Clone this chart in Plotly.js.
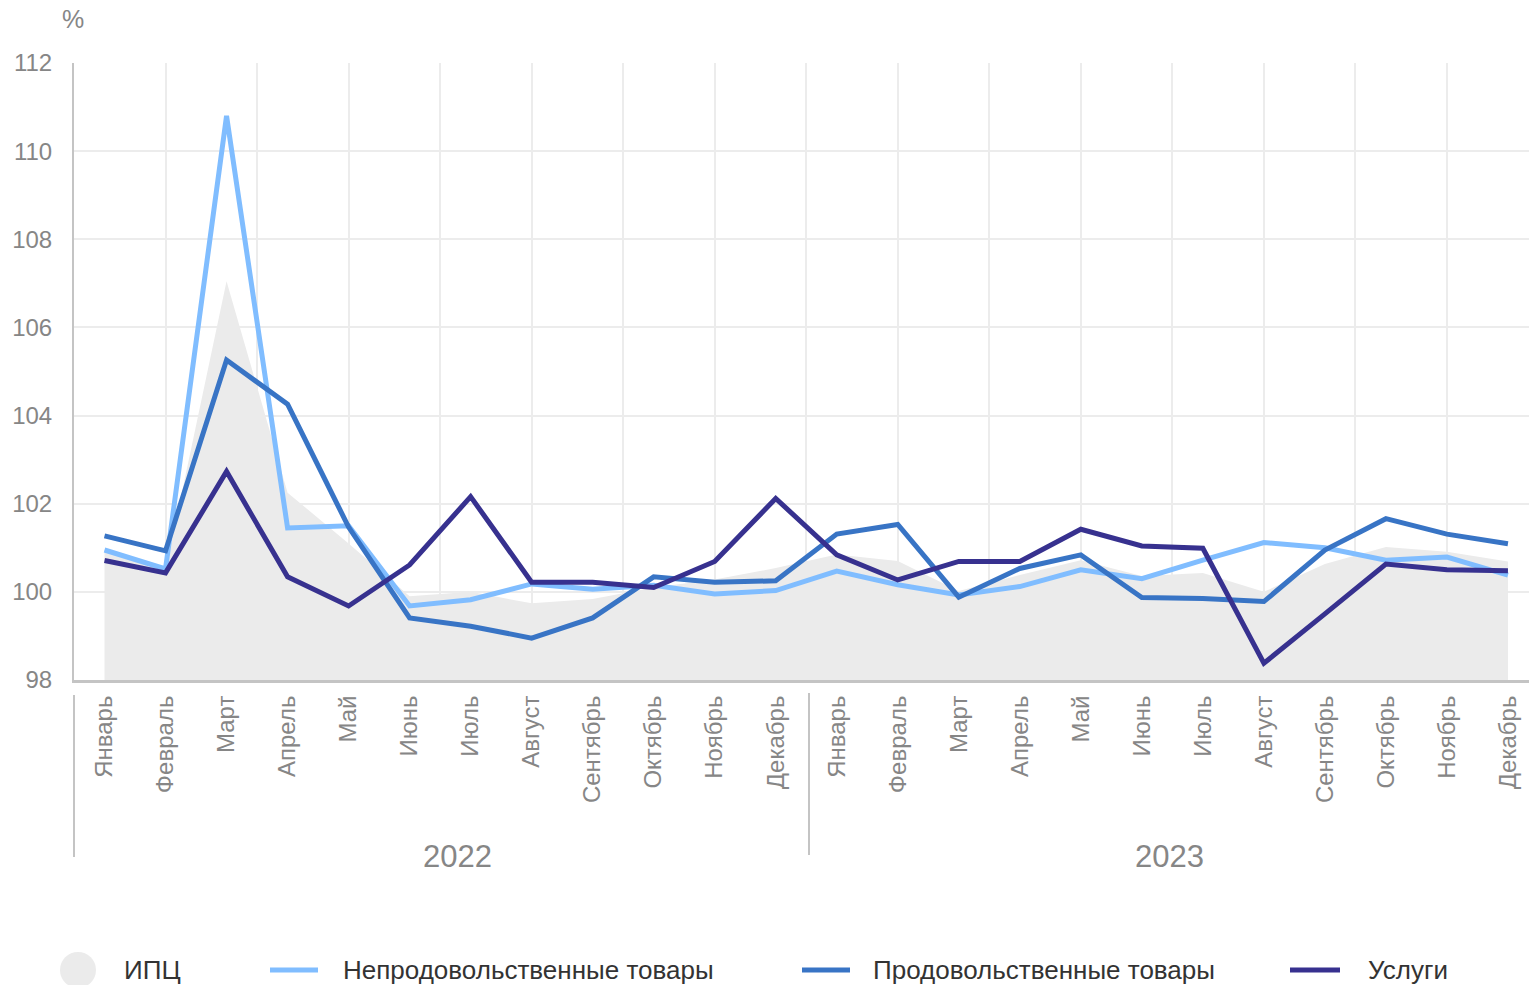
<!DOCTYPE html>
<html>
<head>
<meta charset="utf-8">
<script src="https://cdn.plot.ly/plotly-3.0.1.min.js"></script>
<style>
  html, body { margin: 0; padding: 0; background: #ffffff; }
  #chart { width: 1529px; height: 985px; }
</style>
</head>
<body>
<div id="chart"></div>
<script>
// ---- data ----
const periods = [
  '2022-01','2022-02','2022-03','2022-04','2022-05','2022-06',
  '2022-07','2022-08','2022-09','2022-10','2022-11','2022-12',
  '2023-01','2023-02','2023-03','2023-04','2023-05','2023-06',
  '2023-07','2023-08','2023-09','2023-10','2023-11','2023-12'
];
const monthLabels = [
  'Январь','Февраль','Март','Апрель','Май','Июнь',
  'Июль','Август','Сентябрь','Октябрь','Ноябрь','Декабрь',
  'Январь','Февраль','Март','Апрель','Май','Июнь',
  'Июль','Август','Сентябрь','Октябрь','Ноябрь','Декабрь'
];
const yearLabels = ['2022', '2023'];

const cpi = [
  100.95, 100.50, 107.05, 102.25, 101.10, 99.90,
  100.00, 99.74, 99.84, 100.10, 100.28, 100.54,
  100.85, 100.70, 100.02, 100.38, 100.72, 100.36,
  100.43, 100.00, 100.63, 101.02, 100.91, 100.69
];
const nonFood = [
  100.95, 100.52, 110.80, 101.45, 101.50, 99.68,
  99.82, 100.18, 100.06, 100.15, 99.95, 100.03,
  100.47, 100.16, 99.93, 100.12, 100.50, 100.30,
  100.72, 101.12, 101.00, 100.72, 100.79, 100.38
];
const food = [
  101.27, 100.93, 105.26, 104.26, 101.47, 99.41,
  99.22, 98.95, 99.41, 100.34, 100.22, 100.25,
  101.31, 101.53, 99.88, 100.53, 100.84, 99.87,
  99.85, 99.78, 100.95, 101.66, 101.31, 101.09
];
const services = [
  100.71, 100.43, 102.73, 100.34, 99.68, 100.61,
  102.16, 100.22, 100.22, 100.10, 100.69, 102.12,
  100.84, 100.27, 100.69, 100.69, 101.42, 101.04,
  100.99, 98.38, 99.50, 100.63, 100.50, 100.48
];
const seriesNames = ['ИПЦ', 'Непродовольственные товары', 'Продовольственные товары', 'Услуги'];

// ---- styles / geometry ----
const W = 1529, H = 985;
const M = { l: 74, r: 0, t: 63, b: 305 };
const plotW = W - M.l - M.r, plotH = H - M.t - M.b;
const px = x => (x - M.l) / plotW;          // pixel -> paper x
const py = y => (H - M.b - y) / plotH;      // pixel -> paper y

const colors = { cpi: '#ebebeb', nonFood: '#80bdff', food: '#3874c5', services: '#37318f' };
const xRange = [-0.5, 23.345];
const gridVals = [];
for (let v = 1; v <= 23.5; v += 1.5) gridVals.push(v);

const lineTrace = (y, name, color) => ({
  type: 'scatter', mode: 'lines', x: periods, y: y, name: name,
  line: { color: color, width: 5 }, showlegend: false, hoverinfo: 'x+y+name'
});

const traces = [
  { type: 'scatter', mode: 'lines', x: periods, y: cpi, name: seriesNames[0],
    fill: 'tozeroy', fillcolor: colors.cpi, line: { width: 0, color: colors.cpi },
    showlegend: false },
  lineTrace(nonFood, seriesNames[1], colors.nonFood),
  lineTrace(food, seriesNames[2], colors.food),
  lineTrace(services, seriesNames[3], colors.services),
  { type: 'scatter', mode: 'lines', x: [null], y: [null], xaxis: 'x2', yaxis: 'y',
    showlegend: false, hoverinfo: 'skip' }
];

const tickGray = '#868686';
const font = 'Liberation Sans, Arial, Helvetica, sans-serif';

const shapes = [
  // year separators below the axis
  { type: 'line', xref: 'paper', yref: 'paper', x0: px(74), x1: px(74), y0: py(695), y1: py(857),
    line: { color: '#c4c4c4', width: 2 } },
  { type: 'line', xref: 'paper', yref: 'paper', x0: px(809), x1: px(809), y0: py(693), y1: py(855),
    line: { color: '#c4c4c4', width: 2 } },
  // legend symbols
  { type: 'circle', xref: 'paper', yref: 'paper', x0: px(60), x1: px(96), y0: py(952), y1: py(988),
    fillcolor: colors.cpi, line: { width: 0 } },
  { type: 'line', xref: 'paper', yref: 'paper', x0: px(270), x1: px(318), y0: py(970), y1: py(970),
    line: { color: colors.nonFood, width: 5 } },
  { type: 'line', xref: 'paper', yref: 'paper', x0: px(802), x1: px(850), y0: py(970), y1: py(970),
    line: { color: colors.food, width: 5 } },
  { type: 'line', xref: 'paper', yref: 'paper', x0: px(1290), x1: px(1340), y0: py(970), y1: py(970),
    line: { color: colors.services, width: 5 } }
];

const legendText = (x, text) => ({
  xref: 'paper', yref: 'paper', x: px(x), y: py(970), xanchor: 'left', yanchor: 'middle',
  text: text, showarrow: false, font: { family: font, size: 26, color: '#333333' }
});

const annotations = [
  { xref: 'paper', yref: 'paper', x: px(73), y: py(19), xanchor: 'center', yanchor: 'middle',
    text: '%', showarrow: false, font: { family: font, size: 25, color: tickGray } },
  { xref: 'paper', yref: 'paper', x: px(457), y: py(856), xanchor: 'center', yanchor: 'middle',
    text: yearLabels[0], showarrow: false, font: { family: font, size: 31, color: tickGray } },
  { xref: 'paper', yref: 'paper', x: px(1169), y: py(856), xanchor: 'center', yanchor: 'middle',
    text: yearLabels[1], showarrow: false, font: { family: font, size: 31, color: tickGray } },
  legendText(122, seriesNames[0]),
  legendText(341, seriesNames[1]),
  legendText(871, seriesNames[2]),
  legendText(1366, seriesNames[3])
];

const layout = {
  width: W, height: H,
  margin: M,
  paper_bgcolor: '#ffffff', plot_bgcolor: '#ffffff',
  font: { family: font, color: tickGray },
  showlegend: false,
  xaxis: {
    type: 'category', range: xRange, tickmode: 'array', tickvals: periods, ticktext: monthLabels,
    tickangle: -90, tickfont: { size: 24, color: tickGray, family: font },
    ticks: 'outside', ticklen: 3, tickcolor: 'rgba(0,0,0,0)',
    showline: true, linecolor: '#c4c4c4', linewidth: 3,
    showgrid: false, zeroline: false, fixedrange: true
  },
  xaxis2: {
    overlaying: 'x', range: xRange, tickmode: 'array', tickvals: gridVals,
    showticklabels: false, ticks: '', showline: false, zeroline: false,
    showgrid: true, gridcolor: '#ececec', gridwidth: 1.5, fixedrange: true
  },
  yaxis: {
    range: [98, 112], tick0: 98, dtick: 2,
    tickfont: { size: 24, color: tickGray, family: font },
    ticks: 'outside', ticklen: 15, tickcolor: 'rgba(0,0,0,0)',
    showline: true, linecolor: '#c4c4c4', linewidth: 2,
    gridcolor: '#ececec', gridwidth: 1.5, zeroline: false, fixedrange: true
  },
  shapes: shapes,
  annotations: annotations
};

Plotly.newPlot('chart', traces, layout, { displayModeBar: false, staticPlot: false });
</script>
</body>
</html>
